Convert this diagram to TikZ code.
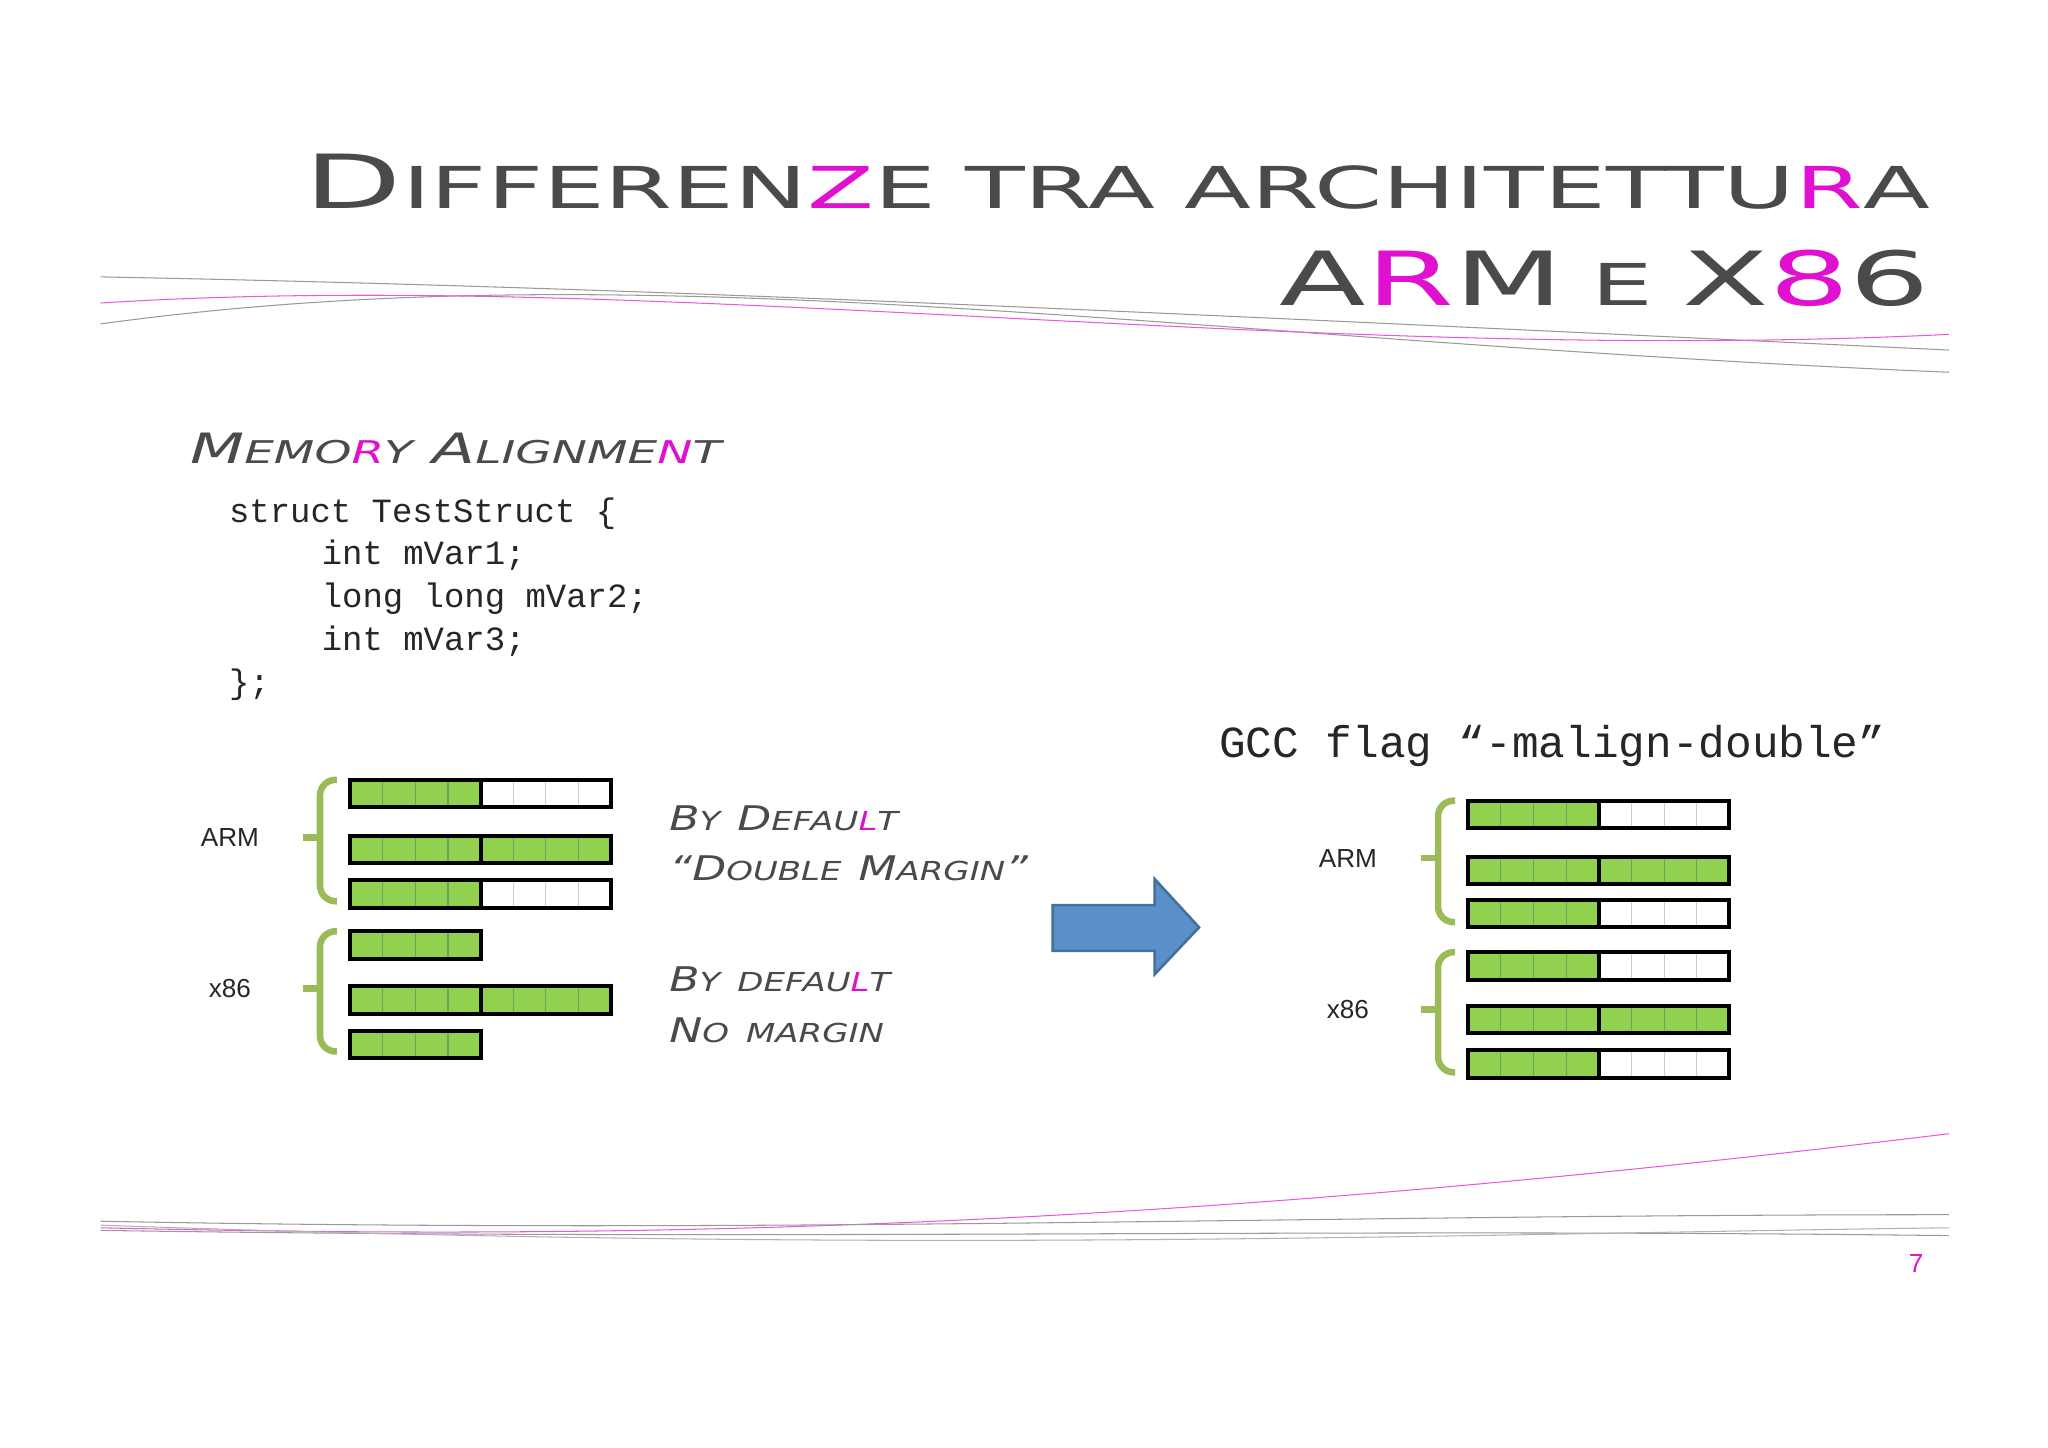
\documentclass[tikz,border=0pt]{standalone}
\usepackage{fontspec}
\setmainfont{DejaVu Sans}
\setsansfont{Liberation Sans}
\setmonofont{Liberation Mono}
\definecolor{tg}{HTML}{4A4A4A}
\definecolor{mg}{HTML}{E010D0}
\definecolor{gr}{HTML}{92D050}
\definecolor{brc}{HTML}{9BBB59}
\definecolor{bl}{HTML}{5B8FC9}
\definecolor{blb}{HTML}{41719C}
\newcommand{\B}[1]{{\fontsize{44}{44}\selectfont #1}}
\newcommand{\Sm}[1]{{\fontsize{34}{34}\selectfont #1}}
\newcommand{\Mb}[1]{{\fontsize{16}{16}\selectfont #1}}
\newcommand{\Ms}[1]{{\fontsize{12}{12}\selectfont #1}}
\newcommand{\Hb}[1]{{\fontsize{13}{13}\selectfont #1}}
\newcommand{\Hs}[1]{{\fontsize{10}{10}\selectfont #1}}
\newcommand{\cellbar}[4]{%
  \foreach \i in {1,...,#4}{%
    \pgfmathsetmacro{\xx}{#1+(\i-1)*25}
    \ifnum\i>#3\relax
      \fill[white] (\xx,#2) rectangle ++(25,21);
      \draw[gray!40,thin] (\xx,#2) -- ++(0,21);
    \else
      \fill[gr] (\xx,#2) rectangle ++(25,21);
      \draw[green!40!black!60,thin] (\xx,#2) -- ++(0,21);
    \fi}%
  \draw[black,line width=1.5pt] (#1,#2) rectangle ++(100,21);
  \ifnum#4>4\relax\draw[black,line width=1.5pt] (#1+100,#2) rectangle ++(100,21);\fi}
\newcommand{\grbrace}[4]{%
  \draw[brc,line width=2.5pt,rounded corners=6pt] (#1+13,#2) -- (#1,#2) -- (#1,#3) -- (#1+13,#3);
  \draw[brc,line width=2.5pt] (#1-13,#4) -- (#1,#4);}
\begin{document}
\begin{tikzpicture}[x=0.5pt,y=-0.5pt,
  lbl/.style={font=\sffamily\fontsize{10}{10}\selectfont,text=black!85},
  code/.style={font=\ttfamily\fontsize{13}{16}\selectfont,text=black!85,anchor=base west,inner sep=0},
  ttl/.style={anchor=base east,text=tg,inner sep=0,transform shape,xscale=1.1,yscale=0.65},
  sub/.style={anchor=base west,text=tg,inner sep=0,font=\itshape}]
\useasboundingbox (0,0) rectangle (1568,1108);
\fill[white] (0,0) rectangle (1568,1108);
\draw[gray!80,thin] (77,212) .. controls (500,220) and (900,240) .. (1492,268);
\draw[gray!80,thin] (77,248) .. controls (500,190) and (900,260) .. (1492,285);
\draw[mg!70,thin] (77,232) .. controls (500,205) and (1000,280) .. (1492,256);
\draw[mg!70,thin] (77,940) .. controls (500,950) and (900,940) .. (1492,868);
\draw[gray!80,thin] (77,935) .. controls (600,945) and (1000,930) .. (1492,930);
\draw[gray!80,thin] (77,942) .. controls (600,950) and (1000,940) .. (1492,946);
\draw[gray!60,thin] (77,938) .. controls (700,960) and (1100,945) .. (1492,940);
\node[ttl] (t1) at (1478,160) {\B{D}\Sm{IFFEREN}\textcolor{mg}{\Sm{Z}}\Sm{E}\quad\Sm{TRA}\quad\Sm{ARCHITETTU}\textcolor{mg}{\Sm{R}}\Sm{A}};
\node[ttl] (t2) at (1478,234) {\B{A\textcolor{mg}{R}M}\quad\Sm{E}\quad\B{X\textcolor{mg}{8}6}};
\node[sub,transform shape,xscale=1.5] (st) at (145,355) {\Mb{M}\Ms{EMO}\textcolor{mg}{\Ms{R}}\Ms{Y}\enspace\Mb{A}\Ms{LIGNME}\textcolor{mg}{\Ms{N}}\Ms{T}};
\node[sub,transform shape,xscale=1.3] (d1) at (512,636) {\Hb{B}\Hs{Y}\enspace\Hb{D}\Hs{EFAU}\textcolor{mg}{\Hs{L}}\Hs{T}};
\node[sub,transform shape,xscale=1.3] (d2) at (512,674) {\Hb{“D}\Hs{OUBLE}\enspace\Hb{M}\Hs{ARGIN}\Hb{”}};
\node[sub,transform shape,xscale=1.3] (d3) at (512,759) {\Hb{B}\Hs{Y}\enspace\Hs{DEFAU}\textcolor{mg}{\Hs{L}}\Hs{T}};
\node[sub,transform shape,xscale=1.3] (d4) at (512,798) {\Hb{N}\Hs{O}\enspace\Hs{MARGIN}};
\node[code] (c1) at (175,400) {struct TestStruct \{};
\node[code] (c2) at (246,432) {int mVar1;};
\node[code] (c3) at (246,465) {long long mVar2;};
\node[code] (c4) at (246,498) {int mVar3;};
\node[code] (c5) at (175,531) {\};};
\node[anchor=base west,inner sep=0,font=\ttfamily\fontsize{17}{18}\selectfont,text=black!85] (gcc) at (933,580) {GCC flag “-malign-double”};
\node[lbl] (arm1) at (176,641) {ARM};
\node[lbl] (x1) at (176,757) {x86};
\node[lbl] (arm2) at (1032,657) {ARM};
\node[lbl] (x2) at (1032,773) {x86};
\cellbar{268}{597}{4}{8}
\cellbar{268}{640}{8}{8}
\cellbar{268}{674}{4}{8}
\cellbar{268}{713}{4}{4}
\cellbar{268}{755}{8}{8}
\cellbar{268}{789}{4}{4}
\grbrace{245}{597}{690}{641}
\grbrace{245}{713}{805}{757}
\cellbar{1124}{613}{4}{8}
\cellbar{1124}{656}{8}{8}
\cellbar{1124}{689}{4}{8}
\cellbar{1124}{729}{4}{8}
\cellbar{1124}{770}{8}{8}
\cellbar{1124}{804}{4}{8}
\grbrace{1101}{613}{706}{657}
\grbrace{1101}{729}{821}{773}
\draw[fill=bl,draw=blb,line width=1pt] (806,693) -- (884,693) -- (884,673) -- (918,710) -- (884,746) -- (884,728) -- (806,728) -- cycle;
\node[text=mg,font=\sffamily\fontsize{10}{10}\selectfont] (pg) at (1467,967) {7};
\end{tikzpicture}
\end{document}
